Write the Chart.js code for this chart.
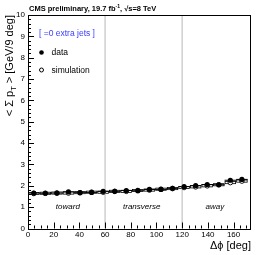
<!DOCTYPE html>
<html>
<head>
<meta charset="utf-8">
<script src="https://cdn.jsdelivr.net/npm/chart.js@4/dist/chart.umd.min.js"></script>
<style>
  html, body { margin: 0; padding: 0; background: #fff; }
  #wrap { width: 266px; height: 255px; }
</style>
</head>
<body>
<div id="wrap"><canvas id="chart"></canvas></div>
<script>
// bins of 9 deg in delta phi
const binLow = [0, 9, 18, 27, 36, 45, 54, 63, 72, 81, 90, 99, 108, 117, 126, 135, 144, 153, 162];
const binHigh = [9, 18, 27, 36, 45, 54, 63, 72, 81, 90, 99, 108, 117, 126, 135, 144, 153, 162, 171];
const binCenters = [4.5, 13.5, 22.5, 31.5, 40.5, 49.5, 58.5, 67.5, 76.5, 85.5, 94.5, 103.5, 112.5, 121.5, 130.5, 139.5, 148.5, 157.5, 166.5];
const dataValues = [1.66, 1.65, 1.66, 1.72, 1.68, 1.69, 1.74, 1.74, 1.78, 1.77, 1.83, 1.83, 1.88, 1.96, 2.01, 2.06, 2.05, 2.26, 2.30];
const simValues = [1.64, 1.65, 1.66, 1.66, 1.68, 1.70, 1.70, 1.74, 1.74, 1.78, 1.80, 1.84, 1.87, 1.92, 1.95, 2.00, 2.05, 2.15, 2.22];
const simErrors = [0.05, 0.05, 0.05, 0.05, 0.05, 0.05, 0.05, 0.05, 0.05, 0.05, 0.05, 0.05, 0.05, 0.05, 0.05, 0.05, 0.05, 0.05, 0.05];
const regionEdges = [60, 120];
const regionNames = ['toward', 'transverse', 'away'];
const regionCenters = [31, 88.5, 145.5];
const xTicks = [0, 20, 40, 60, 80, 100, 120, 140, 160];

const FONT = '"Liberation Sans", Arial, sans-serif';

const histPlugin = {
  id: 'hist',
  beforeDatasetsDraw(chart) {
    const ctx = chart.ctx;
    const x = chart.scales.x, y = chart.scales.y;
    ctx.save();
    // simulation boxes
    ctx.strokeStyle = '#000';
    ctx.lineWidth = 0.8;
    for (let i = 0; i < simValues.length; i++) {
      const x0 = x.getPixelForValue(binLow[i]);
      const x1 = x.getPixelForValue(binHigh[i]);
      const y0 = y.getPixelForValue(simValues[i] + simErrors[i]);
      const y1 = y.getPixelForValue(simValues[i] - simErrors[i]);
      ctx.strokeRect(x0 + 0.5, y0, x1 - x0 - 1, y1 - y0);
    }
    // data horizontal bars
    ctx.lineWidth = 1;
    ctx.beginPath();
    for (let i = 0; i < dataValues.length; i++) {
      const py = y.getPixelForValue(dataValues[i]);
      ctx.moveTo(x.getPixelForValue(binLow[i]), py);
      ctx.lineTo(x.getPixelForValue(binHigh[i]), py);
    }
    ctx.stroke();
    ctx.restore();
  },
  afterDraw(chart) {
    const ctx = chart.ctx;
    const a = chart.chartArea;
    const x = chart.scales.x, y = chart.scales.y;
    ctx.save();
    // frame
    ctx.strokeStyle = '#000';
    ctx.lineWidth = 1;
    ctx.strokeRect(Math.round(a.left) + 0.5, Math.round(a.top) + 0.5,
      Math.round(a.right - a.left), Math.round(a.bottom - a.top));
    // inward ticks
    ctx.beginPath();
    for (let v = 0; v <= 10.001; v += 0.2) {
      const py = Math.round(y.getPixelForValue(v)) + 0.5;
      const major = Math.abs(v - Math.round(v)) < 0.01;
      ctx.moveTo(a.left, py);
      ctx.lineTo(a.left + (major ? 6 : 3), py);
    }
    for (let v = 0; v <= 170; v += 5) {
      const px = Math.round(x.getPixelForValue(v)) + 0.5;
      const major = v % 20 === 0;
      ctx.moveTo(px, a.bottom);
      ctx.lineTo(px, a.bottom - (major ? 6 : 3));
    }
    ctx.stroke();

    // region labels
    ctx.fillStyle = '#000';
    ctx.font = 'italic 8px ' + FONT;
    ctx.textAlign = 'center';
    ctx.textBaseline = 'middle';
    regionNames.forEach((n, i) => {
      ctx.fillText(n, x.getPixelForValue(regionCenters[i]), y.getPixelForValue(1.03));
    });

    // header
    ctx.textAlign = 'left';
    ctx.textBaseline = 'alphabetic';
    ctx.font = 'bold 7.5px ' + FONT;
    let tx = 29;
    const t1 = 'CMS preliminary, 19.7 fb';
    ctx.fillText(t1, tx, 10.5);
    tx += ctx.measureText(t1).width;
    ctx.font = 'bold 5px ' + FONT;
    ctx.fillText('-1', tx, 7.5);
    tx += ctx.measureText('-1').width;
    ctx.font = 'bold 7.5px ' + FONT;
    ctx.fillText(', \u221As=8 TeV', tx, 10.5);

    // legend
    ctx.font = '8.5px ' + FONT;
    ctx.fillStyle = '#3b3bff';
    ctx.textBaseline = 'middle';
    ctx.fillText('[ =0 extra jets ]', 39, 34);
    ctx.fillStyle = '#000';
    ctx.beginPath();
    ctx.arc(41.5, 52.5, 2.3, 0, Math.PI * 2);
    ctx.fill();
    ctx.fillText('data', 51.5, 53);
    ctx.beginPath();
    ctx.arc(41.5, 70, 2, 0, Math.PI * 2);
    ctx.stroke();
    ctx.fillText('simulation', 51.5, 70.5);

    // axis titles
    ctx.font = '11px ' + FONT;
    ctx.textAlign = 'right';
    ctx.textBaseline = 'alphabetic';
    ctx.fillText('\u0394\u03D5 [deg]', 251, 249);
    ctx.translate(12.5, a.top);
    ctx.rotate(-Math.PI / 2);
    ctx.textAlign = 'right';
    let s = '< \u03A3 p';
    const rest = ' > [GeV/9 deg]';
    ctx.font = '11px ' + FONT;
    const wRest = ctx.measureText(rest).width;
    ctx.font = '7.5px ' + FONT;
    const wSub = ctx.measureText('T').width;
    ctx.font = '11px ' + FONT;
    ctx.fillText(rest, 0, 0);
    ctx.font = '7.5px ' + FONT;
    ctx.fillText('T', -wRest, 3);
    ctx.font = '11px ' + FONT;
    ctx.fillText(s, -wRest - wSub, 0);
    ctx.restore();
  }
};

const regionLineSets = regionEdges.map(v => ({
  data: [{ x: v, y: 0 }, { x: v, y: 10 }],
  showLine: true,
  borderColor: '#cfcfcf',
  borderWidth: 1.5,
  pointRadius: 0,
  order: 3
}));

new Chart(document.getElementById('chart'), {
  type: 'scatter',
  data: {
    datasets: [
      ...regionLineSets,
      {
        label: 'simulation',
        data: binCenters.map((c, i) => ({ x: c, y: simValues[i] })),
        pointStyle: 'circle',
        pointRadius: 2.3,
        backgroundColor: '#fff',
        borderColor: '#000',
        borderWidth: 0.9,
        order: 2
      },
      {
        label: 'data',
        data: binCenters.map((c, i) => ({ x: c, y: dataValues[i] })),
        pointStyle: 'circle',
        pointRadius: 2.6,
        backgroundColor: '#000',
        borderColor: '#000',
        borderWidth: 0,
        order: 1
      }
    ]
  },
  options: {
    responsive: true,
    maintainAspectRatio: false,
    animation: false,
    layout: { padding: { top: 15, right: 16, left: 0, bottom: 0 } },
    plugins: { legend: { display: false }, tooltip: { enabled: false } },
    scales: {
      x: {
        type: 'linear',
        min: 0,
        max: 172.8,
        afterBuildTicks: s => { s.ticks = xTicks.map(v => ({ value: v })); },
        afterFit: s => { s.height = 26.5; },
        grid: { display: false, drawTicks: false },
        border: { display: false },
        ticks: { color: '#000', font: { family: FONT, size: 8 }, padding: 1, maxRotation: 0 }
      },
      y: {
        min: 0,
        max: 10,
        afterFit: s => { s.width = 28; },
        grid: { display: false, drawTicks: false },
        border: { display: false },
        ticks: { stepSize: 1, color: '#000', font: { family: FONT, size: 8 }, padding: 3 }
      }
    }
  },
  plugins: [histPlugin]
});
</script>
</body>
</html>
